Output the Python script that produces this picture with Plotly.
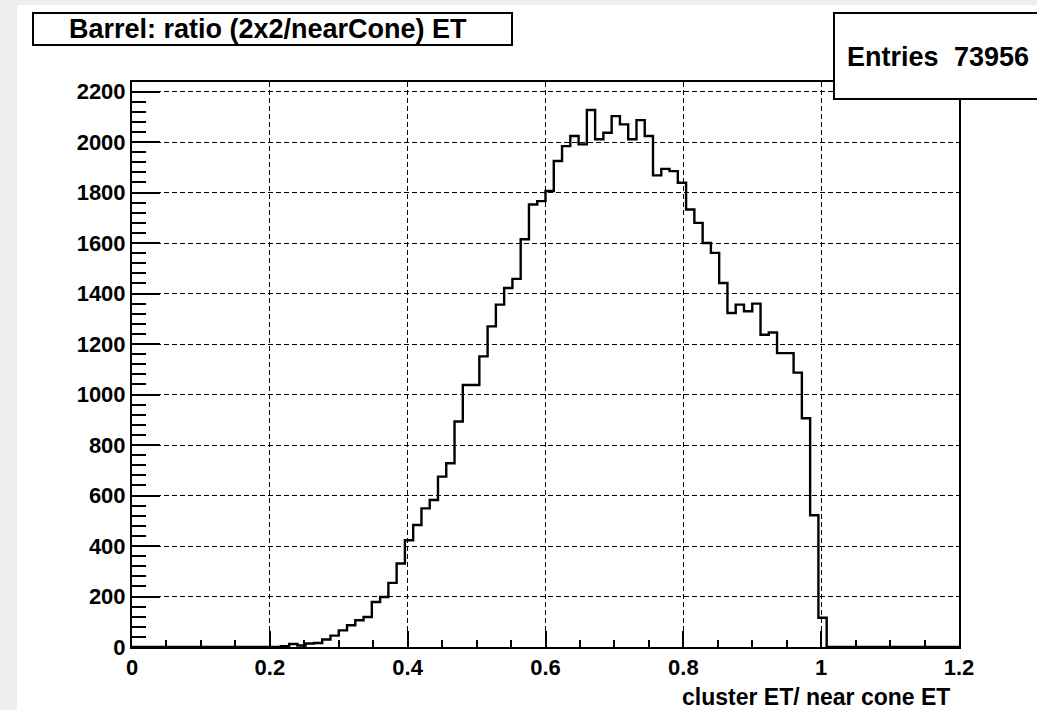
import plotly.graph_objects as go

# ---------------- data ----------------
bin_low = 0.0
bin_width = 0.012
n_bins = 100
counts = [0] * 18 + [
    3, 12, 6, 14, 16, 30, 45, 66, 86, 106,          # k18-27
    119, 178, 198, 254, 331, 423, 483, 549, 582, 675,  # k28-37
    728, 893, 1038, 1038, 1151, 1270, 1356, 1422, 1458, 1615,  # k38-47
    1753, 1766, 1806, 1925, 1984, 2024, 1991, 2127, 2011, 2037,  # k48-57
    2103, 2070, 2011, 2087, 2024, 1868, 1894, 1885, 1839, 1733,  # k58-67
    1680, 1600, 1561, 1442, 1323, 1356, 1330, 1360, 1237, 1246,  # k68-77
    1164, 1164, 1087, 906, 522, 116,                 # k78-83
]
counts += [0] * (n_bins - len(counts))

x_tickvals = [0, 0.2, 0.4, 0.6, 0.8, 1.0, 1.2]
x_ticktext = ["0", "0.2", "0.4", "0.6", "0.8", "1", "1.2"]
y_tickvals = list(range(0, 2201, 200))
y_ticktext = [str(v) for v in y_tickvals]

title_text = "Barrel: ratio (2x2/nearCone) ET"
stats_label = "Entries"
stats_value = "73956"
x_title = "cluster ET/ near cone ET"

# ---------------- layout geometry ----------------
W, H = 1037, 710
L, R, T, B = 132, 959, 82, 647   # plot frame in pixels


def xp(px):
    return (px - L) / (R - L)


def yp(py):
    return (B - py) / (B - T)


edges = [bin_low + i * bin_width for i in range(n_bins + 1)]
xs = edges
ys = counts + [counts[-1]]

FONT = "Liberation Sans, Arial, Helvetica, sans-serif"

fig = go.Figure()
fig.add_trace(go.Scatter(
    x=xs, y=ys, mode="lines", line=dict(color="black", width=2.4, shape="hv"),
    hoverinfo="skip", showlegend=False,
))

axis_common = dict(
    showline=True, mirror=True, linecolor="black", linewidth=2,
    showgrid=True, gridcolor="black", gridwidth=1, griddash="5px,3px",
    zeroline=False, ticks="inside", tickcolor="black", tickwidth=1.5,
    tickfont=dict(family=FONT, size=22, color="black", weight="bold"),
)

fig.update_layout(
    width=W, height=H,
    margin=dict(l=L, r=W - R, t=T, b=H - B),
    paper_bgcolor="white", plot_bgcolor="white",
    xaxis=dict(range=[0, 1.2], tickmode="array", tickvals=x_tickvals,
               ticktext=x_ticktext, ticklen=16,
               minor=dict(ticks="inside", ticklen=7, dtick=0.05,
                          tickcolor="black", tickwidth=1.5, showgrid=False),
               **axis_common),
    yaxis=dict(range=[0, 2238], tickmode="array", tickvals=y_tickvals,
               ticktext=y_ticktext, ticklen=28,
               minor=dict(ticks="inside", ticklen=14, dtick=40,
                          tickcolor="black", tickwidth=1.5, showgrid=False),
               **axis_common),
)

shapes = []
# grey margins of the original screenshot
shapes.append(dict(type="rect", xref="paper", yref="paper",
                   x0=xp(0), x1=xp(17), y0=yp(H), y1=yp(0),
                   fillcolor="#eeeef0", line=dict(width=0), layer="below"))
shapes.append(dict(type="rect", xref="paper", yref="paper",
                   x0=xp(0), x1=xp(W), y0=yp(5), y1=yp(0),
                   fillcolor="#eeeef0", line=dict(width=0), layer="below"))
# title box
shapes.append(dict(type="rect", xref="paper", yref="paper",
                   x0=xp(33), x1=xp(512), y0=yp(45), y1=yp(13),
                   fillcolor="white", line=dict(color="black", width=2),
                   layer="above"))
# stats box
shapes.append(dict(type="rect", xref="paper", yref="paper",
                   x0=xp(834), x1=xp(1045), y0=yp(99), y1=yp(13),
                   fillcolor="white", line=dict(color="black", width=2),
                   layer="above"))
fig.update_layout(shapes=shapes)

fig.add_annotation(text=title_text, xref="paper", yref="paper",
                   x=xp(268), y=yp(29), xanchor="center", yanchor="middle",
                   showarrow=False,
                   font=dict(family=FONT, size=27, color="black", weight="bold"))
fig.add_annotation(text=stats_label, xref="paper", yref="paper",
                   x=xp(845), y=yp(57), xanchor="left", yanchor="middle",
                   showarrow=False,
                   font=dict(family=FONT, size=27, color="black", weight="bold"))
fig.add_annotation(text=stats_value, xref="paper", yref="paper",
                   x=xp(1031), y=yp(57), xanchor="right", yanchor="middle",
                   showarrow=False,
                   font=dict(family=FONT, size=27, color="black", weight="bold"))
fig.add_annotation(text=x_title, xref="paper", yref="paper",
                   x=xp(952), y=yp(697), xanchor="right", yanchor="middle",
                   showarrow=False,
                   font=dict(family=FONT, size=23, color="black", weight="bold"))

fig.write_html("out.html")
